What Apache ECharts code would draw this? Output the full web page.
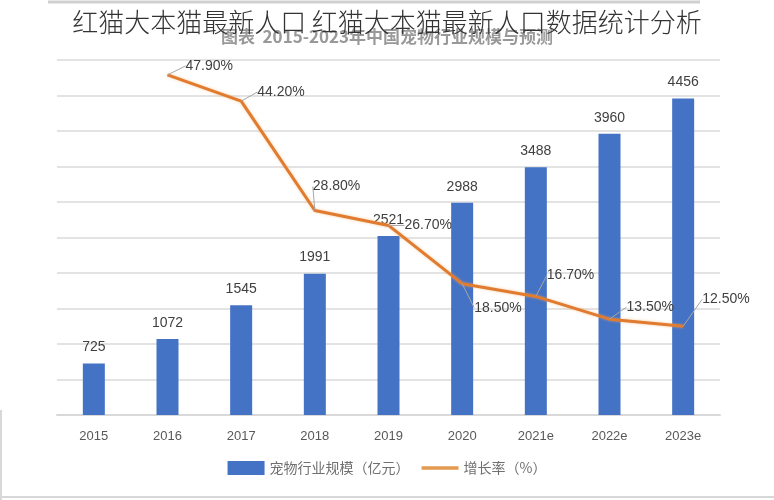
<!DOCTYPE html>
<html><head><meta charset="utf-8">
<script src="https://cdn.jsdelivr.net/npm/echarts@6/dist/echarts.min.js"></script>
<style>html,body{margin:0;padding:0;background:#fff}#c{width:774px;height:500px}</style>
</head><body><div id="c"></div>
<script>
const categories = ['2015','2016','2017','2018','2019','2020','2021e','2022e','2023e'];
const marketSize = [725,1072,1545,1991,2521,2988,3488,3960,4456];
const growthRate = [null,47.9,44.2,28.8,26.7,18.5,16.7,13.5,12.5];
const growthLabels = ['', '47.90%','44.20%','28.80%','26.70%','18.50%','16.70%','13.50%','12.50%'];
const seriesNames = ['宠物行业规模（亿元）','增长率（%）'];
const titleText = '红猫大本猫最新人口 红猫大本猫最新人口数据统计分析';
const subTitleText = '图表  2015-2023年中国宠物行业规模与预测';

// label placement offsets (style only)
const labelShift = [[0,0],[18,-9],[16,-9],[-2,-24],[16,0],[12,24],[11,-21],[17,-12],[19,-27]];

const chart = echarts.init(document.getElementById('c'), null, {renderer:'canvas'});
const numFont = 'Liberation Sans, Arial, sans-serif';
const cjkFont = 'Noto Sans CJK SC, sans-serif';
chart.setOption({
  backgroundColor:'#fff',
  animation:false,
  title:[
    {text:subTitleText,left:'center',top:23,z:1,textStyle:{fontFamily:cjkFont,fontSize:17,fontWeight:'bold',color:'#999'}},
    {text:titleText,left:'center',top:4,z:10,textStyle:{fontFamily:cjkFont,fontSize:26,fontWeight:300,color:'#333'}}
  ],
  graphic:[
    {type:'rect',z:5,shape:{x:0,y:0,width:774,height:28},style:{fill:'#fff'}},
    {type:'line',z:6,shape:{x1:48,y1:2,x2:700,y2:2},style:{stroke:'#d0d0d0',lineWidth:3}},
    {type:'line',z:6,shape:{x1:0,y1:497,x2:774,y2:497},style:{stroke:'#d8d8d8',lineWidth:2}},
    {type:'line',z:6,shape:{x1:1,y1:410,x2:1,y2:500},style:{stroke:'#d8d8d8',lineWidth:2}}
  ],
  grid:{left:57,right:54,top:60,bottom:85},
  legend:{
    bottom:20,left:'center',itemWidth:37,itemHeight:14,itemGap:12,
    textStyle:{fontFamily:cjkFont,fontSize:14,color:'#707070'},
    data:[{name:seriesNames[0],icon:'rect'},{name:seriesNames[1],icon:'path://M0,0h40v4h-40z',itemStyle:{color:'#E39A50'}}]
  },
  xAxis:{
    type:'category',data:categories,
    axisLine:{lineStyle:{color:'#d9d9d9',width:2}},
    axisTick:{show:false},
    axisLabel:{fontFamily:numFont,fontSize:13,color:'#595959',margin:15}
  },
  yAxis:[
    {type:'value',min:0,max:5000,interval:500,axisLabel:{show:false},axisLine:{show:false},axisTick:{show:false},
     splitLine:{lineStyle:{color:'#e3e3e3',width:2}}},
    {type:'value',min:0,max:50,interval:5,axisLabel:{show:false},axisLine:{show:false},axisTick:{show:false},splitLine:{show:false}}
  ],
  series:[
    {name:seriesNames[0],type:'bar',data:marketSize,barWidth:22,itemStyle:{color:'#4472C4'},
     label:{show:true,position:'top',distance:9,fontFamily:numFont,fontSize:14,color:'#404040'}},
    {name:seriesNames[1],type:'line',yAxisIndex:1,data:growthRate,symbol:'circle',symbolSize:0,showSymbol:true,connectNulls:false,
     lineStyle:{color:'#E07B2F',width:3,shadowColor:'rgba(240,170,100,0.6)',shadowBlur:3},
     itemStyle:{color:'#E07B2F'},
     label:{show:true,position:'right',distance:0,fontFamily:numFont,fontSize:14,color:'#404040',
       formatter:p=>growthLabels[p.dataIndex]},
     labelLine:{show:true,lineStyle:{color:'#a6a6a6',width:1},smooth:false},
     labelLayout:p=>({dx:labelShift[p.dataIndex][0],dy:labelShift[p.dataIndex][1]})
    }
  ]
});
</script></body></html>
